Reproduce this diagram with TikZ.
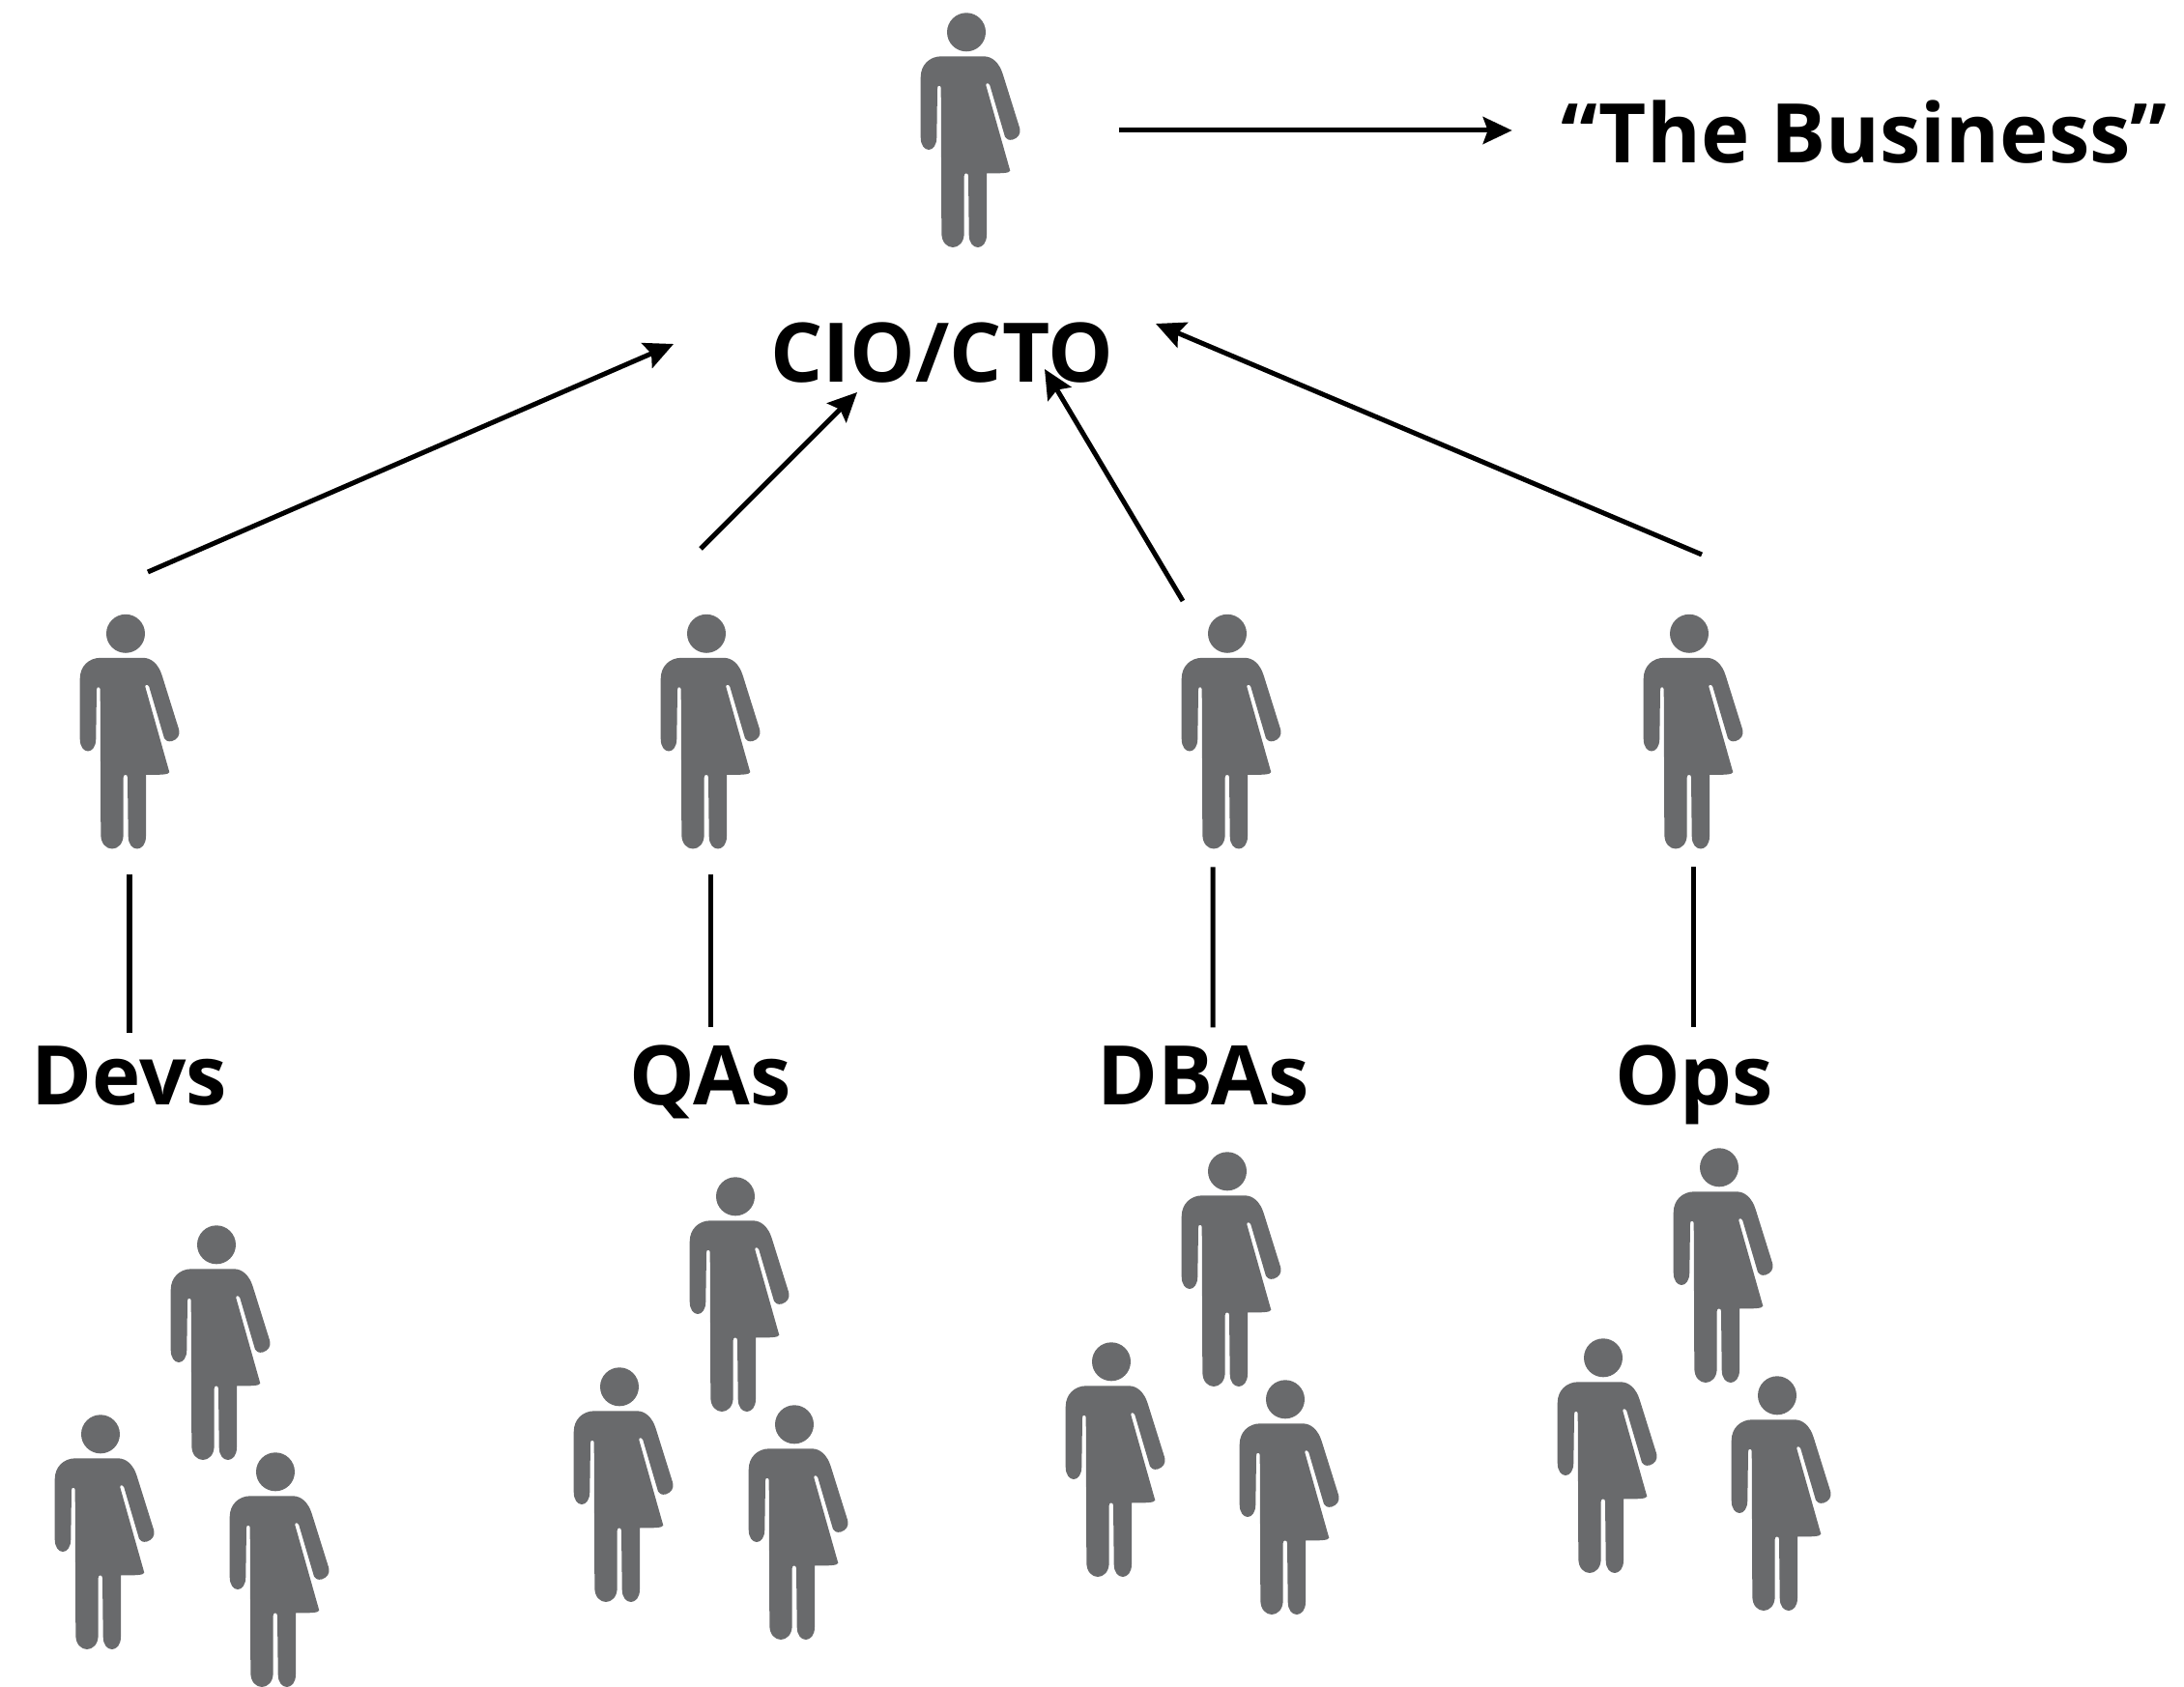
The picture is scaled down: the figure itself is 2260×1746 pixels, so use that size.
\documentclass[tikz,border=0pt]{standalone}
\usepackage{fontspec}
\setmainfont{Open Sans}
\usepackage{tikz}
\usetikzlibrary{arrows.meta}
\definecolor{figgray}{HTML}{696A6C}
\tikzstyle{title} = [anchor=base, inner sep=0pt, font=\fontsize{24.2}{30}\selectfont\bfseries]
\tikzstyle{figure} = [minimum width=1.03cm, minimum height=2.42cm, inner sep=0pt]
\tikzstyle{link} = [line width=0.05cm]
\tikzset{silhouette/.pic={
	\fill[figgray] (-4,-101.7) circle [radius=20];
	\fill[figgray] (-51.3,-55) .. controls (-51.3,-68) and (-42,-76.7) .. (-29.7,-76.7)
	  -- (13.7,-76.7) .. controls (23,-76.7) and (30,-70) .. (33.7,-58.3)
	  -- (51,-3) .. controls (53,4) and (49,8) .. (44,9.5) .. controls (40,10.5) and (37,9) .. (36,6.7)
	  -- (20.3,-46.7) .. controls (19,-49.5) and (16,-49.5) .. (16.3,-46.7)
	  -- (41.3,41.7) .. controls (41,44.5) and (30,44.5) .. (17,44.3)
	  -- (17,108) .. controls (17,125.3) and (-1.3,125.3) .. (-1.3,108)
	  -- (-2,47) .. controls (-2,43.5) and (-6.3,43.5) .. (-6.3,47)
	  -- (-6.3,106) .. controls (-6.3,126) and (-29.7,126) .. (-29.7,106)
	  -- (-30.3,-44) .. controls (-30.3,-47) and (-34,-47) .. (-34,-44)
	  -- (-34.7,7) .. controls (-34.7,24.3) and (-51.3,24.3) .. (-51.3,7)
	  -- cycle;
}}
\newcommand{\person}[2]{\node (#1) at (#2) [figure] {}; \pic at (#1) {silhouette};}

\begin{document}
\begin{tikzpicture}[x=0.01cm, y=-0.01cm, >={Stealth[length=0.3cm, width=0.28cm, inset=0.05cm]}]
	  \useasboundingbox (0,0) rectangle (2260,1746);

	  \person{pcio}{1004,135}
	  \person{pdev}{134,757.5}
	  \person{pqa}{735,757.5}
	  \person{pdba}{1274,757.5}
	  \person{pops}{1752,757.5}

	  \person{dev1}{228,1390}
	  \person{dev2}{108,1586}
	  \person{dev3}{289,1625}
	  \person{qa1}{765,1340}
	  \person{qa2}{645,1537}
	  \person{qa3}{826,1576}
	  \person{dba1}{1274,1314}
	  \person{dba2}{1154,1511}
	  \person{dba3}{1334,1550}
	  \person{ops1}{1783,1310}
	  \person{ops2}{1663,1507}
	  \person{ops3}{1843,1546}

	  \node (cio) at (975,396) [title] {CIO/CTO};
	  \node (biz) at (1929,169) [title] {“The Business”};
	  \node (devs) at (134,1143) [title] {Devs};
	  \node (qas) at (735,1143) [title] {QAs};
	  \node (dbas) at (1245,1143) [title] {DBAs};
	  \node (ops) at (1753,1143) [title] {Ops};

	  \coordinate (devout) at (153,592);
	  \coordinate (qaout) at (725,568);
	  \coordinate (dbaout) at (1224,622);
	  \coordinate (opsout) at (1761,574);
	  \coordinate (devin) at (697,356);
	  \coordinate (qain) at (887,406);
	  \coordinate (dbain) at (1081,382);
	  \coordinate (opsin) at (1196,335);

	  \draw [->, link] (devout) -- (devin);
	  \draw [->, link] (qaout) -- (qain);
	  \draw [->, link] (dbaout) -- (dbain);
	  \draw [->, link] (opsout) -- (opsin);
	  \draw [->, link, shorten <=1.02cm, shorten >=0.5cm] (pcio.east) -- (pcio.east -| biz.west);

	  \draw [link, shorten <=0.26cm, shorten >=0.13cm] (pdev.south) -- (devs.north);
	  \draw [link, shorten <=0.26cm, shorten >=0.18cm] (pqa.south) -- (qas.north);
	  \draw [link, shorten <=0.18cm, shorten >=0.18cm] ([xshift=-0.19cm]pdba.south) -- ([xshift=0.10cm]dbas.north);
	  \draw [link, shorten <=0.18cm, shorten >=0.18cm] (pops.south) -- (pops.south |- ops.north);
\end{tikzpicture}
\end{document}
